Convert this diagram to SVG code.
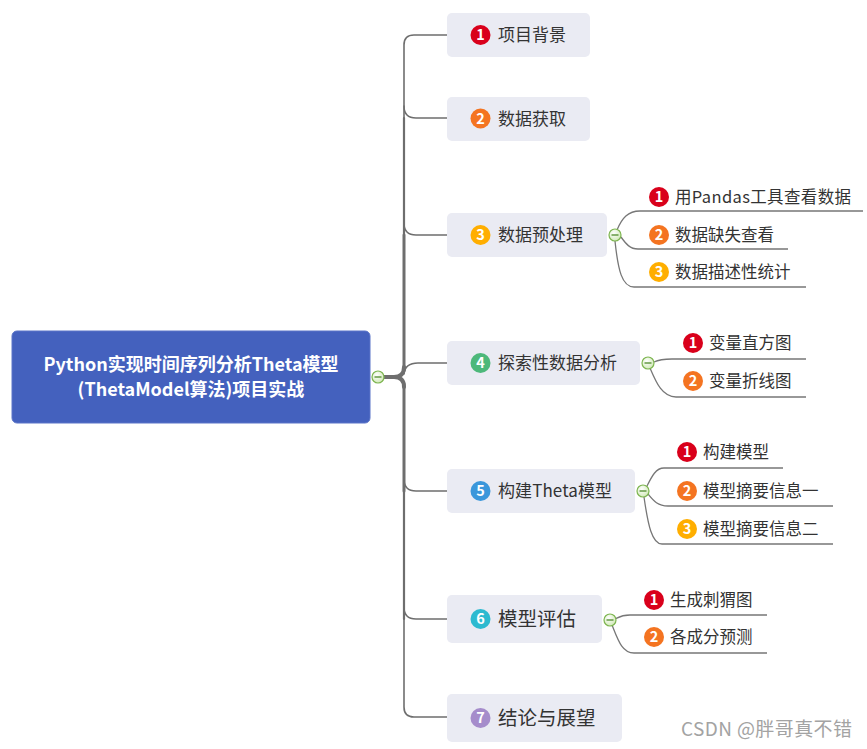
<svg xmlns="http://www.w3.org/2000/svg" width="867" height="749" viewBox="0 0 867 749">
<defs>
<radialGradient id="cg" cx="0.4" cy="0.35" r="0.7">
<stop offset="0" stop-color="#ffffff"/>
<stop offset="1" stop-color="#cfe8b4"/>
</radialGradient>
</defs>
<style>
text{font-family:"Noto Sans CJK SC","Noto Sans",sans-serif}
.node{fill:#EAEBF3}
.t1{font-size:17px;fill:#333}
.t2{font-size:19.5px;fill:#333}
.ts{font-size:16.5px;fill:#333}
.bn{font-size:14.5px;font-weight:bold;fill:#fff;text-anchor:middle}
.trunk{fill:none;stroke:#6E6E6E;stroke-linecap:round}
.sub{fill:none;stroke:#777;stroke-width:1.3}
.col{fill:url(#cg);stroke:#7DB550;stroke-width:1.2}
.minus{stroke:#4E8A2A;stroke-width:1.3}
.c1{fill:#D9001B}.c2{fill:#F47421}.c3{fill:#FFAE00}.c4{fill:#4DB87A}.c5{fill:#3B97DB}.c6{fill:#2DBAD0}.c7{fill:#A58CCB}
</style>
<rect width="867" height="749" fill="#fff"/>
<g id="connectors">
<path class="trunk" stroke-width="1.6" d="M447,35 H414 Q404,35 404,45 V118"/>
<path class="trunk" stroke-width="2.2" d="M404,118 V235"/>
<path class="trunk" stroke-width="3" d="M404,235 V370"/>
<path class="trunk" stroke-width="1.6" d="M447,717 H414 Q404,717 404,707 V619"/>
<path class="trunk" stroke-width="2.2" d="M404,619 V491"/>
<path class="trunk" stroke-width="3" d="M404,491 V384"/>
<path class="trunk" stroke-width="4" d="M384,377 H394 Q404,377 404,367 M394,377 Q404,377 404,387"/>
<path class="trunk" stroke-width="1.5" d="M404,106 Q404,118 416,118 H447"/>
<path class="trunk" stroke-width="1.5" d="M404,223 Q404,235 416,235 H447"/>
<path class="trunk" stroke-width="1.6" d="M404,374 Q405,363 418,363 H447"/>
<path class="trunk" stroke-width="1.5" d="M404,479 Q404,491 416,491 H447"/>
<path class="trunk" stroke-width="1.5" d="M404,607 Q404,619 416,619 H447"/>
<path class="sub" d="M617,230 C622,218 628,211 640,211 H863"/>
<path class="sub" d="M621,237 C626,244 630,249 638,249 H788"/>
<path class="sub" d="M615,241 C618,270 622,287 634,287 H806"/>
<path class="sub" d="M654,362 C658,360 662,359 672,359 H806"/>
<path class="sub" d="M650,368 C656,382 662,397 676,397 H806"/>
<path class="sub" d="M647,486 C652,476 656,468 664,468 H783"/>
<path class="sub" d="M648,494 C653,500 657,506 668,506 H833"/>
<path class="sub" d="M644,497 C648,525 652,544 662,544 H833"/>
<path class="sub" d="M615,619 C619,617 622,615 630,615 H767"/>
<path class="sub" d="M612,625 C618,640 622,653 634,653 H767"/>
</g>
<g id="root">
<rect x="12" y="331" width="358" height="92" rx="5" fill="#4461BE" stroke="#5A74C8" stroke-width="1"/>
<text x="191" y="371" font-size="18" font-weight="bold" fill="#fff" text-anchor="middle">Python实现时间序列分析Theta模型</text>
<text x="191" y="395.5" font-size="18" font-weight="bold" fill="#fff" text-anchor="middle">(ThetaModel算法)项目实战</text>
<circle class="col" cx="378" cy="377" r="6"/><line class="minus" x1="374.5" y1="377" x2="381.5" y2="377"/>
</g>
<g id="n1">
<rect class="node" x="447" y="13" width="143" height="44" rx="5"/>
<circle class="c1" cx="480.5" cy="35" r="10"/><text class="bn" x="480.5" y="40">1</text>
<text class="t1" x="498" y="41">项目背景</text>
</g>
<g id="n2">
<rect class="node" x="447" y="97" width="143" height="44" rx="5"/>
<circle class="c2" cx="480.5" cy="118.5" r="10"/><text class="bn" x="480.5" y="123.5">2</text>
<text class="t1" x="498" y="124.5">数据获取</text>
</g>
<g id="n3">
<rect class="node" x="447" y="213" width="160" height="44" rx="5"/>
<circle class="c3" cx="480.5" cy="235" r="10"/><text class="bn" x="480.5" y="240">3</text>
<text class="t1" x="498" y="241">数据预处理</text>
<circle class="col" cx="615" cy="235" r="6"/><line class="minus" x1="611.5" y1="235" x2="618.5" y2="235"/>
</g>
<g id="n3a"><circle class="c1" cx="659" cy="197" r="10"/><text class="bn" x="659" y="202">1</text><text class="ts" x="675" y="203" textLength="176" lengthAdjust="spacing">用Pandas工具查看数据</text></g>
<g id="n3b"><circle class="c2" cx="659" cy="235" r="10"/><text class="bn" x="659" y="240">2</text><text class="ts" x="675" y="241">数据缺失查看</text></g>
<g id="n3c"><circle class="c3" cx="659" cy="272" r="10"/><text class="bn" x="659" y="277">3</text><text class="ts" x="675" y="278">数据描述性统计</text></g>
<g id="n4">
<rect class="node" x="447" y="341" width="193" height="44" rx="5"/>
<circle class="c4" cx="480.5" cy="363" r="10"/><text class="bn" x="480.5" y="368">4</text>
<text class="t1" x="498" y="369">探索性数据分析</text>
<circle class="col" cx="648" cy="363" r="6"/><line class="minus" x1="644.5" y1="363" x2="651.5" y2="363"/>
</g>
<g id="n4a"><circle class="c1" cx="693" cy="343" r="10"/><text class="bn" x="693" y="348">1</text><text class="ts" x="709" y="349">变量直方图</text></g>
<g id="n4b"><circle class="c2" cx="693" cy="381" r="10"/><text class="bn" x="693" y="386">2</text><text class="ts" x="709" y="387">变量折线图</text></g>
<g id="n5">
<rect class="node" x="447" y="469" width="188" height="44" rx="5"/>
<circle class="c5" cx="480.5" cy="491" r="10"/><text class="bn" x="480.5" y="496">5</text>
<text class="t1" x="498" y="497" textLength="114" lengthAdjust="spacing">构建Theta模型</text>
<circle class="col" cx="643" cy="491" r="6"/><line class="minus" x1="639.5" y1="491" x2="646.5" y2="491"/>
</g>
<g id="n5a"><circle class="c1" cx="687" cy="452" r="10"/><text class="bn" x="687" y="457">1</text><text class="ts" x="703" y="458">构建模型</text></g>
<g id="n5b"><circle class="c2" cx="687" cy="491" r="10"/><text class="bn" x="687" y="496">2</text><text class="ts" x="703" y="497">模型摘要信息一</text></g>
<g id="n5c"><circle class="c3" cx="687" cy="529" r="10"/><text class="bn" x="687" y="534">3</text><text class="ts" x="703" y="535">模型摘要信息二</text></g>
<g id="n6">
<rect class="node" x="447" y="595" width="155" height="48" rx="5"/>
<circle class="c6" cx="480.5" cy="619" r="10"/><text class="bn" x="480.5" y="624">6</text>
<text class="t2" x="498" y="626">模型评估</text>
<circle class="col" cx="610" cy="620" r="6"/><line class="minus" x1="606.5" y1="620" x2="613.5" y2="620"/>
</g>
<g id="n6a"><circle class="c1" cx="654" cy="600" r="10"/><text class="bn" x="654" y="605">1</text><text class="ts" x="670" y="606">生成刺猬图</text></g>
<g id="n6b"><circle class="c2" cx="654" cy="637" r="10"/><text class="bn" x="654" y="642">2</text><text class="ts" x="670" y="643">各成分预测</text></g>
<g id="n7">
<rect class="node" x="447" y="694" width="175" height="48" rx="5"/>
<circle class="c7" cx="480.5" cy="718" r="10"/><text class="bn" x="480.5" y="723">7</text>
<text class="t2" x="498" y="725">结论与展望</text>
</g>
<text x="681" y="736" font-size="19" fill="#A3A3A3" textLength="171" lengthAdjust="spacing">CSDN @胖哥真不错</text>
</svg>
